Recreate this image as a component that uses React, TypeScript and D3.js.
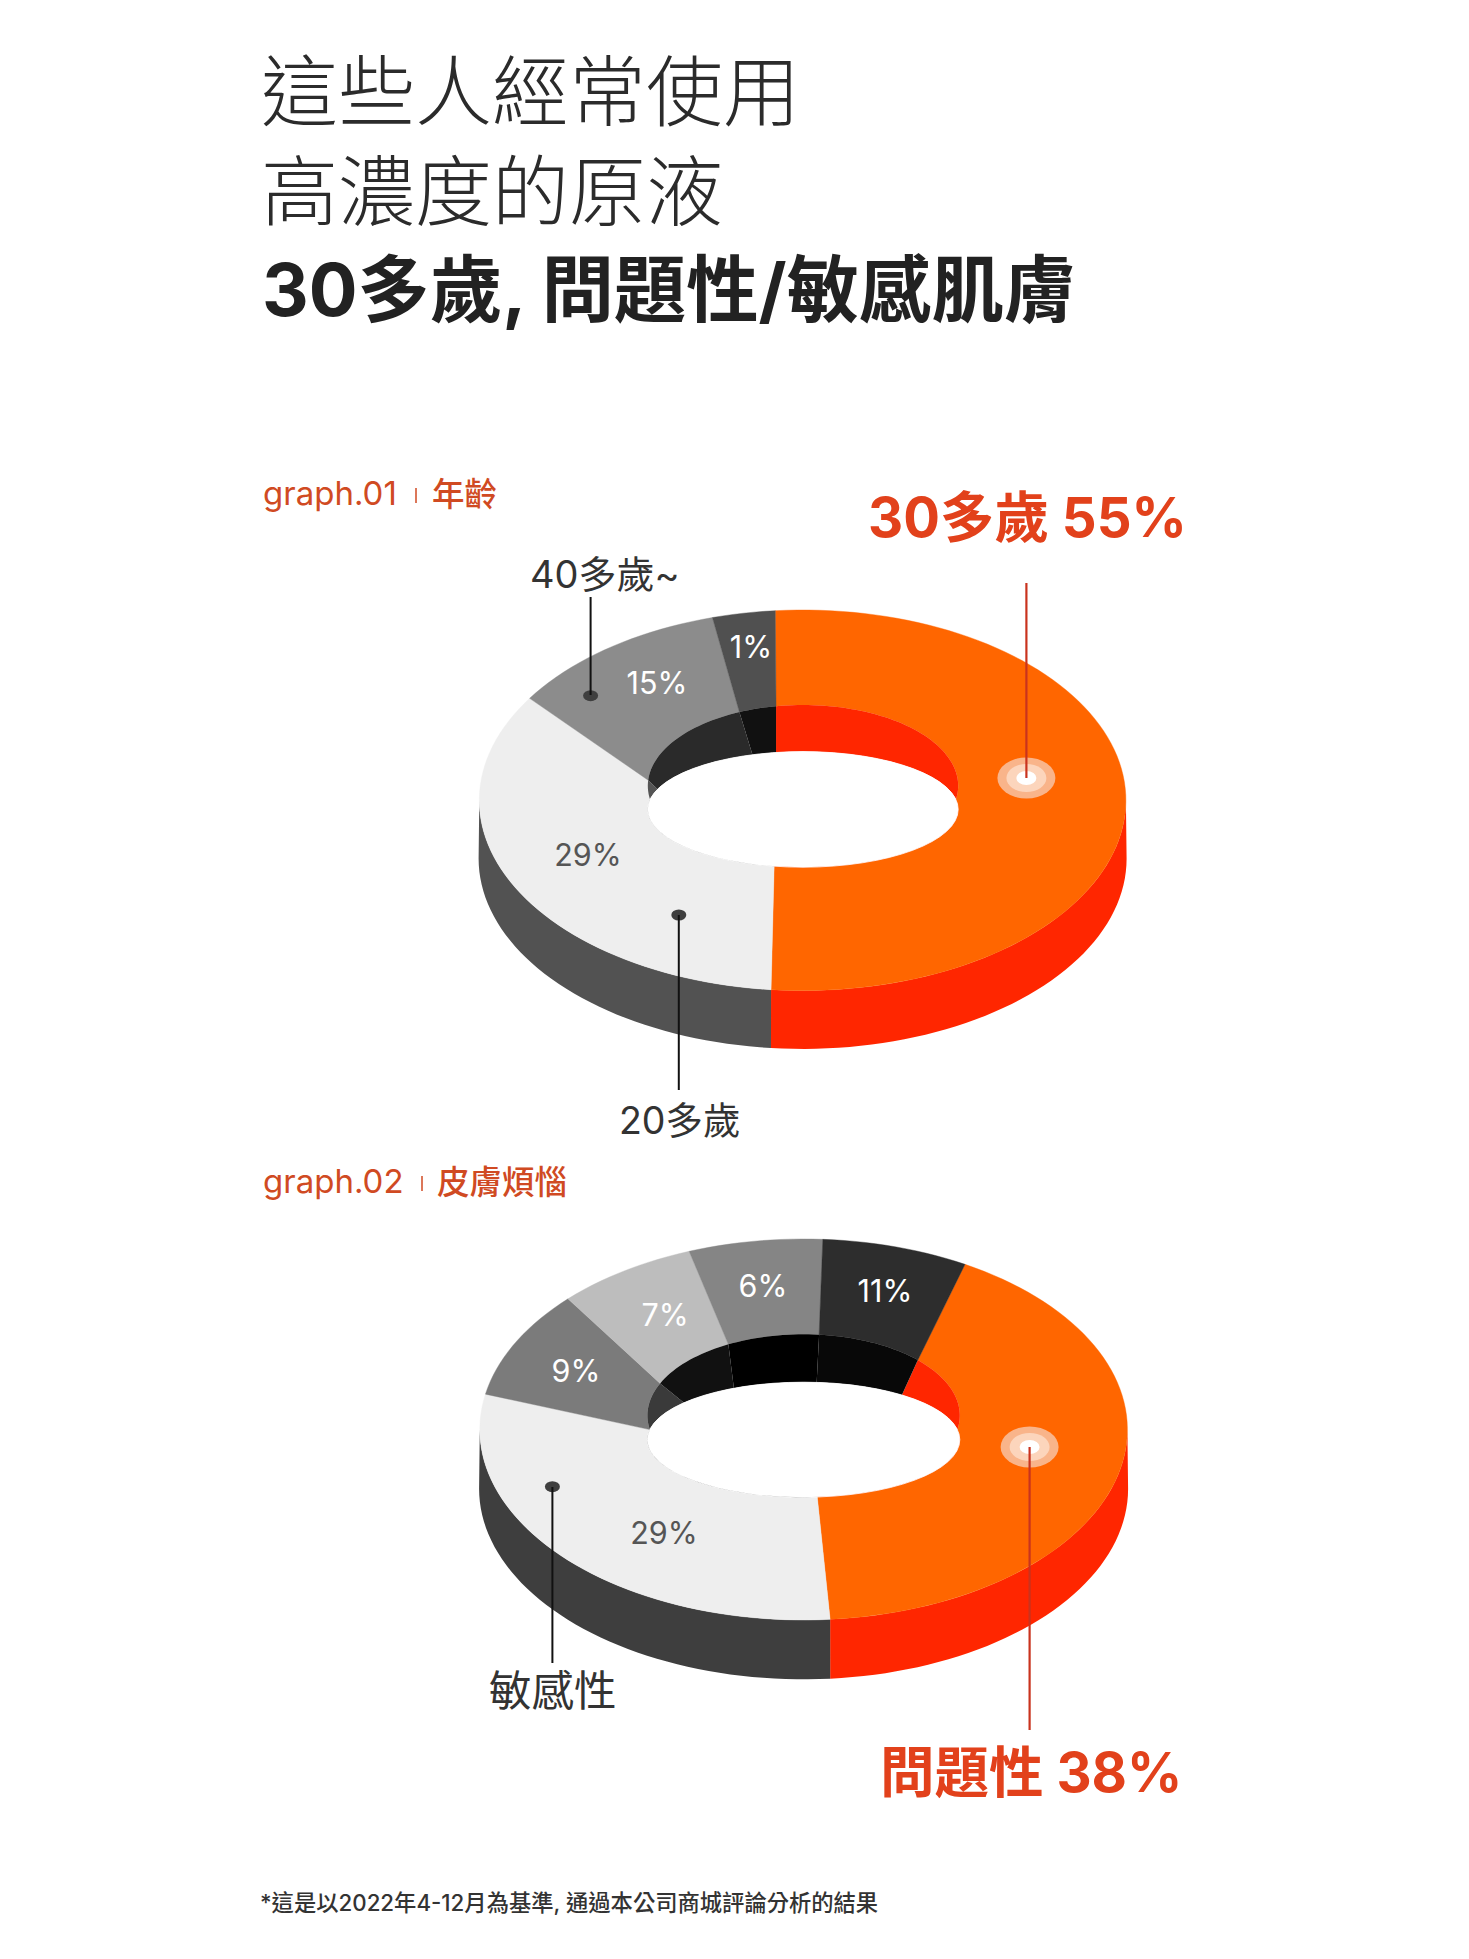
import React from "react";
import * as d3 from "d3";

// ---------- data ----------
const ageLabels = ["30多歲", "20多歲", "40多歲~", "其他"];
const ageValues = [55, 29, 15, 1];
const ageTopFill = ["#ff6600", "#eeeeee", "#8c8c8c", "#505050"];
const ageWallFill = ["#ff2600", "#555555", "#2a2a2a", "#111111"];
const ageTextFill = ["none", "#555555", "#ffffff", "#ffffff"];

const skinLabels = ["問題性", "敏感性", "A", "B", "C", "D"];
const skinValues = [38, 29, 9, 7, 6, 11];
const skinTopFill = ["#ff6600", "#eeeeee", "#7b7b7b", "#bdbdbd", "#858585", "#2d2d2d"];
const skinWallFill = ["#ff2600", "#3a3a3a", "#3a3a3a", "#111111", "#000000", "#080808"];
const skinTextFill = ["none", "#555555", "#ffffff", "#ffffff", "#ffffff", "#ffffff"];

const titleLines = ["這些人經常使用", "高濃度的原液"];
const titleBold = "30多歲, 問題性/敏感肌膚";
const footnote = "*這是以2022年4-12月為基準, 通過本公司商城評論分析的結果";

// ---------- projection: the drawing is a tilted ring, so cumulative share maps
// to a different ellipse parameter on each of its three edges (degrees clockwise from 12 o'clock)
const ageProjection = {
  outer: [-4.85, 185.6, 302.4, 343.8, 355.15],
  inner: [-10, 190.7, 274, 335.8, 350],
  wall: [-10, 190.7, 290.5, 341, 350],
  top: { cx: 802.6, cy: 800.3, rx: 323.3, ry: 190.3 },
  hole: { cx: 803, cy: 785.8, rx: 155.2, ry: 80.8 },
  lip: { cx: 803, cy: 809.4, rx: 155.2, ry: 57.8 },
  depth: 58.3,
  sideA: "#ff2600",
  sideB: "#525252",
};
const skinProjection = {
  outer: [29.9, 175.3, 280.7, 313.3, 339.3, 363.4, 389.9],
  inner: [47, 175, 260, 293.3, 331.2, 365.7, 407],
  wall: [39, 175, 260, 310, 333.5, 364.8, 399],
  top: { cx: 803.6, cy: 1429.5, rx: 323.8, ry: 190.5 },
  hole: { cx: 803.6, cy: 1415.5, rx: 156.2, ry: 81.2 },
  lip: { cx: 803.6, cy: 1439.7, rx: 156.2, ry: 57.5 },
  depth: 59.3,
  sideA: "#ff2600",
  sideB: "#3e3e3e",
};

const SANS = "Inter, 'Noto Sans CJK TC', sans-serif";
const ORANGE_TEXT = "#e2411b";
const LABEL_TEXT = "#d04a22";

type E = { cx: number; cy: number; rx: number; ry: number };
const rad = (d: number) => (d * Math.PI) / 180;
const pt = (e: E, deg: number): [number, number] => [
  e.cx + e.rx * Math.sin(rad(deg)),
  e.cy - e.ry * Math.cos(rad(deg)),
];
const sweep = (a: number, b: number) => {
  const n = Math.max(2, Math.ceil(Math.abs(b - a) / 2));
  return d3.range(n + 1).map((i) => a + ((b - a) * i) / n);
};
const closed = d3.line().curve(d3.curveLinearClosed);
const band = (e1: E, a1: number, b1: number, e2: E, a2: number, b2: number) =>
  closed([...sweep(a1, b1).map((t) => pt(e1, t)), ...sweep(b2, a2).map((t) => pt(e2, t))]) as string;

function Donut({ values, topFill, wallFill, p, labels }: any) {
  const cum = [0, ...Array.from(d3.cumsum(values as number[]))];
  const outer = d3.scaleLinear().domain(cum).range(p.outer);
  const inner = d3.scaleLinear().domain(cum).range(p.inner);
  const wall = d3.scaleLinear().domain(cum).range(p.wall);
  const bottom: E = { ...p.top, cy: p.top.cy + p.depth, rx: p.top.rx + 0.7 };
  const split = outer(values[0]);
  return (
    <g>
      <path d={band(p.top, 90, split, bottom, 90, split)} fill={p.sideA} />
      <path d={band(p.top, split, 270, bottom, split, 270)} fill={p.sideB} />
      {values.map((_: number, i: number) => (
        <path
          key={labels[i]}
          d={band(p.top, outer(cum[i]), outer(cum[i + 1]), p.hole, inner(cum[i]), inner(cum[i + 1]))}
          fill={topFill[i]}
          stroke={topFill[i]}
          strokeWidth={0.4}
        />
      ))}
      {values.map((_: number, i: number) => (
        <path
          key={labels[i] + "w"}
          d={band(p.hole, inner(cum[i]), inner(cum[i + 1]), p.lip, wall(cum[i]), wall(cum[i + 1]))}
          fill={wallFill[i]}
        />
      ))}
      <ellipse
        cx={p.lip.cx}
        cy={p.lip.cy}
        rx={p.lip.rx}
        ry={p.lip.ry}
        fill="#ffffff"
        stroke="#ffffff"
        strokeWidth={0.8}
      />
    </g>
  );
}

const Hot = ({ x, y }: { x: number; y: number }) => (
  <g>
    <ellipse cx={x} cy={y} rx={29} ry={20.5} fill="#f9b48a" />
    <ellipse cx={x} cy={y} rx={20} ry={14} fill="#fcd5bc" />
    <ellipse cx={x} cy={y} rx={10} ry={7} fill="#ffffff" />
  </g>
);
const Dot = ({ x, y }: { x: number; y: number }) => (
  <ellipse cx={x} cy={y} rx={7.5} ry={5.5} fill="#3f3f3f" />
);
const Pct = ({ x, y, v, fill }: any) => (
  <text x={x} y={y} textAnchor="middle" fontFamily={SANS} fontSize={30.5} fill={fill}>
    {v}%
  </text>
);

export default function App() {
  return (
    <svg
      width={1469}
      height={1959}
      viewBox="0 0 1469 1959"
      style={{ position: "absolute", left: 0, top: 0, background: "#fff" }}
    >
      <g fontFamily={SANS}>
        {titleLines.map((t, i) => (
          <text key={t} x={261} y={120 + i * 100} fontSize={77} fontWeight={300} fill="#2b2b2b">
            {t}
          </text>
        ))}
        <text x={262} y={316} fontSize={72.4} fontWeight={700} fill="#222222">
          {titleBold}
        </text>

        <text x={263} y={505} fontSize={33} fontWeight={400} fill={LABEL_TEXT}>graph.01</text>
        <line x1={416} x2={416} y1={488} y2={503} stroke={LABEL_TEXT} strokeWidth={1.5} />
        <text x={432} y={506} fontSize={32.5} fontWeight={500} fill={LABEL_TEXT}>年齡</text>

        <text x={263} y={1193} fontSize={33} fontWeight={400} fill={LABEL_TEXT}>graph.02</text>
        <line x1={422} x2={422} y1={1176} y2={1191} stroke={LABEL_TEXT} strokeWidth={1.5} />
        <text x={437} y={1194} fontSize={32.5} fontWeight={500} fill={LABEL_TEXT}>皮膚煩惱</text>

        <Donut values={ageValues} topFill={ageTopFill} wallFill={ageWallFill} p={ageProjection} labels={ageLabels} />
        <Donut values={skinValues} topFill={skinTopFill} wallFill={skinWallFill} p={skinProjection} labels={skinLabels} />

        <Pct x={751} y={658} v={ageValues[3]} fill={ageTextFill[3]} />
        <Pct x={657} y={694} v={ageValues[2]} fill={ageTextFill[2]} />
        <Pct x={588} y={866} v={ageValues[1]} fill={ageTextFill[1]} />

        <Pct x={885} y={1302} v={skinValues[5]} fill={skinTextFill[5]} />
        <Pct x={763} y={1297} v={skinValues[4]} fill={skinTextFill[4]} />
        <Pct x={665} y={1326} v={skinValues[3]} fill={skinTextFill[3]} />
        <Pct x={576} y={1382} v={skinValues[2]} fill={skinTextFill[2]} />
        <Pct x={664} y={1544} v={skinValues[1]} fill={skinTextFill[1]} />

        <Hot x={1026.4} y={778} />
        <line x1={1026.4} x2={1026.4} y1={583} y2={778} stroke="#c9331e" strokeWidth={2.2} />
        <text x={868} y={537} fontSize={54.5} fontWeight={700} fill={ORANGE_TEXT}>{`${ageLabels[0]} ${ageValues[0]}%`}</text>

        <Hot x={1029.6} y={1447} />
        <line x1={1029.6} x2={1029.6} y1={1447} y2={1730} stroke="#c9331e" strokeWidth={2.2} />
        <text x={880} y={1792} fontSize={54.5} fontWeight={700} fill={ORANGE_TEXT}>{`${skinLabels[0]} ${skinValues[0]}%`}</text>

        <Dot x={590.6} y={695.7} />
        <line x1={590.6} x2={590.6} y1={597} y2={695} stroke="#111" strokeWidth={2} />
        <text x={530} y={588} fontSize={38} fill="#333333">{ageLabels[2]}</text>

        <Dot x={678.8} y={915} />
        <line x1={678.8} x2={678.8} y1={915} y2={1090} stroke="#111" strokeWidth={2} />
        <text x={619} y={1134} fontSize={37.5} fill="#333333">{ageLabels[1]}</text>

        <Dot x={552.4} y={1486.7} />
        <line x1={552.4} x2={552.4} y1={1487} y2={1663} stroke="#111" strokeWidth={2} />
        <text x={489} y={1706} fontSize={42.5} fill="#333333">{skinLabels[1]}</text>

        <text x={260} y={1911} fontSize={22.3} fontWeight={500} fill="#333333">{footnote}</text>
      </g>
    </svg>
  );
}
